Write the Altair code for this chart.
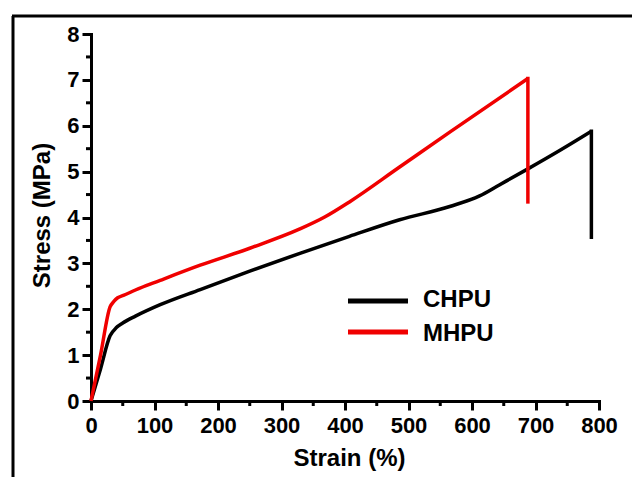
import altair as alt
import pandas as pd

# ---- data ----
series_names = ["CHPU", "MHPU"]
series_colors = ["#000000", "#f00000"]

chpu_strain = [0, 15, 30, 40, 50, 70, 109, 172, 250, 329, 407, 486, 565, 612, 643, 688, 738, 788]
chpu_stress = [0, 0.7, 1.42, 1.6, 1.7, 1.85, 2.1, 2.43, 2.83, 3.22, 3.59, 3.95, 4.24, 4.47, 4.71, 5.06, 5.46, 5.88]
chpu_break_stress = 3.57

mhpu_strain = [0, 15, 30, 36, 42, 51, 70, 109, 172, 250, 329, 368, 407, 486, 565, 688]
mhpu_stress = [0, 1.0, 2.05, 2.17, 2.25, 2.3, 2.42, 2.63, 2.96, 3.33, 3.75, 4.01, 4.34, 5.10, 5.86, 7.03]
mhpu_break_stress = 4.34

x_ticks = [0, 100, 200, 300, 400, 500, 600, 700, 800]
x_minor = [50, 150, 250, 350, 450, 550, 650, 750]
y_ticks = [0, 1, 2, 3, 4, 5, 6, 7, 8]
y_minor = [0.5, 1.5, 2.5, 3.5, 4.5, 5.5, 6.5, 7.5]

FONT = "Liberation Sans"

rows = []
for s, t in zip(chpu_strain, chpu_stress):
    rows.append({"series": "CHPU", "strain": s, "stress": t})
for s, t in zip(mhpu_strain, mhpu_stress):
    rows.append({"series": "MHPU", "strain": s, "stress": t})
df = pd.DataFrame(rows)

drops = pd.DataFrame({
    "series": series_names,
    "strain": [chpu_strain[-1], mhpu_strain[-1]],
    "stress": [chpu_stress[-1], mhpu_stress[-1]],
    "stress2": [chpu_break_stress, mhpu_break_stress],
})

xscale = alt.Scale(domain=[0, 800], nice=False, zero=False)
yscale = alt.Scale(domain=[0, 8], nice=False, zero=False)
cscale = alt.Scale(domain=series_names, range=series_colors)

xaxis = alt.Axis(
    values=x_ticks, title="Strain (%)", grid=False,
    titleX=258, titleY=64, titleBaseline="alphabetic", titleAlign="center",
    titleFont=FONT, titleFontSize=24, titleFontWeight="bold", titleColor="black",
    labelFont=FONT, labelFontSize=22, labelFontWeight="bold", labelColor="black",
    labelPadding=5, labelFlush=False, labelOverlap=False,
    tickSize=9, tickWidth=3, tickColor="black",
    domainWidth=3, domainColor="black", domainCap="square",
)
yaxis = alt.Axis(
    values=y_ticks, title="Stress (MPa)", grid=False,
    titleX=-49, titleY=181, titleBaseline="middle", titleAlign="center", titleAngle=-90,
    titleFont=FONT, titleFontSize=24, titleFontWeight="bold", titleColor="black",
    labelFont=FONT, labelFontSize=22, labelFontWeight="bold", labelColor="black",
    labelPadding=3, labelFlush=False, labelOverlap=False,
    tickSize=9, tickWidth=3, tickColor="black",
    domainWidth=3, domainColor="black", domainCap="square",
)

lines = alt.Chart(df).mark_line(strokeWidth=3.5, interpolate="monotone").encode(
    x=alt.X("strain:Q", scale=xscale, axis=xaxis),
    y=alt.Y("stress:Q", scale=yscale, axis=yaxis),
    color=alt.Color("series:N", scale=cscale, legend=None),
    order=alt.Order("strain:Q"),
)

drop_rules = alt.Chart(drops).mark_rule(strokeWidth=3.5, strokeCap="square").encode(
    x=alt.X("strain:Q", scale=xscale),
    y=alt.Y("stress:Q", scale=yscale),
    y2="stress2:Q",
    color=alt.Color("series:N", scale=cscale, legend=None),
)

xminor = alt.Chart(pd.DataFrame({"strain": x_minor})).mark_rule(color="black", strokeWidth=3).encode(
    x=alt.X("strain:Q", scale=xscale),
    y=alt.value(367), y2=alt.value(372),
)
yminor = alt.Chart(pd.DataFrame({"stress": y_minor})).mark_rule(color="black", strokeWidth=3).encode(
    y=alt.Y("stress:Q", scale=yscale),
    x=alt.value(-5), x2=alt.value(0),
)

one = pd.DataFrame({"d": [0]})
frame_v = alt.Chart(one).mark_rule(color="black", strokeWidth=3).encode(
    x=alt.value(-78), y=alt.value(-18), y2=alt.value(470))
frame_h = alt.Chart(one).mark_rule(color="black", strokeWidth=3).encode(
    y=alt.value(-18), x=alt.value(-79), x2=alt.value(560))

legend_layers = []
legend_line_y = [267, 298]
legend_text_y = [273, 307]
for name, col, ly, ty in zip(series_names, series_colors, legend_line_y, legend_text_y):
    legend_layers.append(
        alt.Chart(one).mark_rule(color=col, strokeWidth=5).encode(
            x=alt.value(257), x2=alt.value(317), y=alt.value(ly))
    )
    legend_layers.append(
        alt.Chart(one).mark_text(text=name, font=FONT, fontSize=24, fontWeight="bold",
                                 color="black", align="left", baseline="alphabetic").encode(
            x=alt.value(332), y=alt.value(ty))
    )

chart = alt.layer(frame_v, frame_h, xminor, yminor, lines, drop_rules, *legend_layers).properties(
    width=508, height=367,
    autosize=alt.AutoSizeParams(type="none"),
    padding={"left": 91, "top": 34, "right": 33, "bottom": 76},
    background="white",
).configure_view(stroke=None)

chart.save("out.html", embed_options={"renderer": "svg", "actions": False})
